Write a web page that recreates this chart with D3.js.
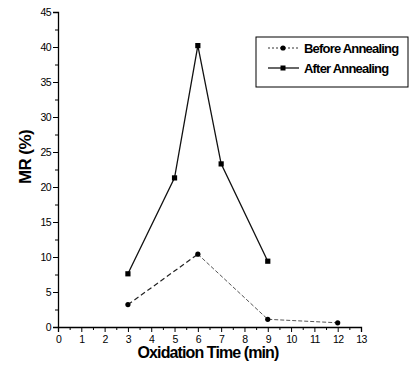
<!DOCTYPE html>
<html><head><meta charset="utf-8">
<script src="https://cdn.jsdelivr.net/npm/d3@7"></script>
<style>body{margin:0;background:#fff}svg{display:block}text{font-family:"Liberation Sans",Arial,sans-serif}</style>
</head><body><svg id="c" width="413" height="365"></svg>
<script>
const beforeX = [3, 6, 9, 12];
const beforeY = [3.2, 10.4, 1.1, 0.6];
const afterX = [3, 5, 6, 7, 9];
const afterY = [7.6, 21.3, 40.2, 23.3, 9.4];
const xTicks = [0,1,2,3,4,5,6,7,8,9,10,11,12,13];
const yTicks = [0,5,10,15,20,25,30,35,40,45];
const seriesNames = ["Before Annealing", "After Annealing"];

const svg = d3.select("#c");
const x = d3.scaleLinear().domain([0,13]).range([58,361]);
const y = d3.scaleLinear().domain([0,45]).range([327,12]);

// y axis
const ya = svg.append("g").attr("transform","translate(58,0)")
  .call(d3.axisLeft(y).tickValues(yTicks).tickSize(5).tickPadding(2).tickFormat(d3.format("d")));
ya.selectAll("text").attr("font-size",10.5).attr("letter-spacing","-0.6");
svg.append("g").attr("transform","translate(58,0)")
  .call(d3.axisLeft(y).tickValues(d3.range(2.5,45,5)).tickSize(3).tickFormat(""))
  .select(".domain").remove();
// x axis
const xa = svg.append("g").attr("transform","translate(0,327)")
  .call(d3.axisBottom(x).tickValues(xTicks).tickSize(5).tickPadding(4).tickFormat(d3.format("d")));
xa.selectAll("text").attr("font-size",10.5).attr("letter-spacing","-0.6");
svg.append("g").attr("transform","translate(0,327)")
  .call(d3.axisBottom(x).tickValues(d3.range(0.5,13,1)).tickSize(3).tickFormat(""))
  .select(".domain").remove();
svg.selectAll(".domain").attr("stroke","#000").attr("stroke-width",1.3);
svg.selectAll(".tick line").attr("stroke","#000");

// titles
svg.append("text").attr("transform","translate(31,157) rotate(-90)").attr("text-anchor","middle")
  .attr("font-size",17).attr("font-weight","bold").attr("letter-spacing","-0.6").text("MR (%)");
svg.append("text").attr("x",208).attr("y",358).attr("text-anchor","middle")
  .attr("font-size",16).attr("font-weight","bold").attr("letter-spacing","-0.9").text("Oxidation Time (min)");

const line = d3.line().x(d=>x(d[0])).y(d=>y(d[1]));
const bData = beforeX.map((v,i)=>[v,beforeY[i]]);
const aData = afterX.map((v,i)=>[v,afterY[i]]);

svg.append("path").attr("d",line(bData.slice(0,2))).attr("fill","none").attr("stroke","#222").attr("stroke-width",1.2).attr("stroke-dasharray","5,3");
svg.append("path").attr("d",line(bData.slice(1))).attr("fill","none").attr("stroke","#555").attr("stroke-width",1).attr("stroke-dasharray","4,2");
svg.append("path").attr("d",line(aData)).attr("fill","none").attr("stroke","#111").attr("stroke-width",1.3);

svg.selectAll(".bp").data(bData).enter().append("circle")
  .attr("cx",d=>x(d[0])).attr("cy",d=>y(d[1])).attr("r",2.6).attr("fill","#000");
svg.selectAll(".ap").data(aData).enter().append("rect")
  .attr("x",d=>x(d[0])-2.6).attr("y",d=>y(d[1])-2.6).attr("width",5.2).attr("height",5.2).attr("fill","#000");

// legend
const lg = svg.append("g");
lg.append("rect").attr("x",256).attr("y",37).attr("width",152).attr("height",50).attr("fill","#fff").attr("stroke","#000").attr("stroke-width",1);
lg.append("line").attr("x1",268).attr("x2",299).attr("y1",48).attr("y2",48).attr("stroke","#333").attr("stroke-dasharray","2,2");
lg.append("circle").attr("cx",283).attr("cy",48).attr("r",2.6).attr("fill","#000");
lg.append("line").attr("x1",268).attr("x2",299).attr("y1",68).attr("y2",68).attr("stroke","#000").attr("stroke-width",1.2);
lg.append("rect").attr("x",280.5).attr("y",65.5).attr("width",5).attr("height",5).attr("fill","#000");
lg.selectAll(".lt").data(seriesNames).enter().append("text")
  .attr("x",304).attr("y",(d,i)=>52.5+i*20).attr("font-size",13).attr("font-weight","bold").attr("letter-spacing","-0.8").text(d=>d);
</script></body></html>
